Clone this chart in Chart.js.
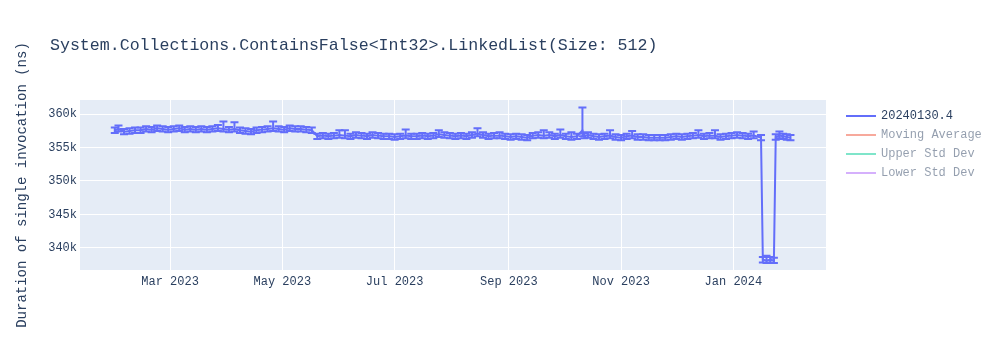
<!DOCTYPE html>
<html>
<head>
<meta charset="utf-8">
<script src="https://cdn.jsdelivr.net/npm/chart.js@4"></script>
<style>
  html, body { margin: 0; padding: 0; background: #fff; }
  #wrap { position: relative; width: 1000px; height: 350px; }
  #title {
    position: absolute; left: 50px; top: 36px;
    font: 16.6px "Liberation Mono", "Courier New", monospace;
    color: #2a3f5f; white-space: pre;
  }
  #legend {
    position: absolute; left: 846px; top: 106px;
    font: 12px "Liberation Mono", "Courier New", monospace;
    color: #2a3f5f;
  }
  .item { height: 19px; display: flex; align-items: center; white-space: pre; }
  .item.off { opacity: 0.5; }
  .swatch { width: 30px; height: 2px; margin-right: 5px; }
</style>
</head>
<body>
<div id="wrap">
  <canvas id="chart" width="1000" height="350"></canvas>
  <div id="title">System.Collections.ContainsFalse&lt;Int32&gt;.LinkedList(Size: 512)</div>
  <div id="legend"></div>
</div>
<script>
// Data
const seriesName = "20240130.4";

const dates = [
  "2023-01-30","2023-02-01","2023-02-04","2023-02-07","2023-02-10","2023-02-13","2023-02-16","2023-02-19",
  "2023-02-22","2023-02-25","2023-02-28","2023-03-03","2023-03-06","2023-03-09","2023-03-12","2023-03-15",
  "2023-03-18","2023-03-21","2023-03-24","2023-03-27","2023-03-30","2023-04-02","2023-04-05","2023-04-08",
  "2023-04-11","2023-04-14","2023-04-17","2023-04-20","2023-04-23","2023-04-26","2023-04-29","2023-05-02",
  "2023-05-05","2023-05-08","2023-05-11","2023-05-14","2023-05-17","2023-05-20","2023-05-23","2023-05-26",
  "2023-05-29","2023-06-01","2023-06-04","2023-06-07","2023-06-10","2023-06-13","2023-06-16","2023-06-19",
  "2023-06-22","2023-06-25","2023-06-28","2023-07-01","2023-07-04","2023-07-07","2023-07-10","2023-07-13",
  "2023-07-16","2023-07-19","2023-07-22","2023-07-25","2023-07-28","2023-07-31","2023-08-03","2023-08-06",
  "2023-08-09","2023-08-12","2023-08-15","2023-08-18","2023-08-21","2023-08-24","2023-08-27","2023-08-30",
  "2023-09-02","2023-09-05","2023-09-08","2023-09-11","2023-09-14","2023-09-17","2023-09-20","2023-09-23",
  "2023-09-26","2023-09-29","2023-10-02","2023-10-05","2023-10-08","2023-10-11","2023-10-12","2023-10-14",
  "2023-10-17","2023-10-20","2023-10-23","2023-10-26","2023-10-29","2023-11-01","2023-11-04","2023-11-07",
  "2023-11-10","2023-11-13","2023-11-16","2023-11-19","2023-11-22","2023-11-25","2023-11-28","2023-12-01",
  "2023-12-04","2023-12-07","2023-12-10","2023-12-13","2023-12-16","2023-12-19","2023-12-22","2023-12-25",
  "2023-12-28","2023-12-31","2024-01-03","2024-01-06","2024-01-09","2024-01-12","2024-01-16","2024-01-17",
  "2024-01-19","2024-01-21","2024-01-23","2024-01-24","2024-01-26","2024-01-28","2024-01-30","2024-02-01"
];

// mean duration, ns
const durations = [
  357600,357800,357400,357500,357600,357600,357800,357700,
  357900,357800,357700,357800,357900,357700,357800,357700,
  357800,357700,357800,357900,357800,357700,357800,357600,
  357500,357400,357600,357700,357800,357900,357800,357700,
  357900,357800,357800,357700,357600,356700,356800,356700,
  356800,356900,356800,356700,356900,356800,356700,356900,
  356800,356700,356700,356600,356700,356800,356700,356700,
  356800,356700,356800,357000,356900,356800,356700,356800,
  356700,356900,357100,356900,356700,356800,356800,356700,
  356600,356700,356600,356500,356800,356900,356800,356900,
  356700,356900,356700,356600,356700,357600,356800,356900,
  356700,356600,356700,356800,356600,356500,356700,356800,
  356600,356600,356500,356500,356500,356500,356600,356700,
  356600,356700,356800,356900,356700,356800,356800,356600,
  356700,356800,356900,356800,356700,356800,356500,338200,
  338100,338200,338100,356600,356800,356700,356600,356500
];

// error bar extents above / below the mean, ns
const errPlus = [
  400,500,400,400,400,400,400,400,
  400,400,400,400,400,400,400,400,
  400,400,400,500,1100,400,1000,400,
  400,400,400,400,400,1000,400,400,
  400,400,400,400,400,400,400,400,
  400,700,800,400,400,400,400,400,
  400,400,400,400,400,900,400,400,
  400,400,400,600,400,400,400,400,
  400,400,800,400,400,400,500,400,
  400,400,400,400,400,400,800,400,
  400,800,400,700,400,3400,400,400,
  400,400,400,800,400,400,400,700,
  400,400,400,400,400,400,400,400,
  400,400,400,700,400,400,800,400,
  400,400,400,400,400,600,400,400,
  700,400,400,400,600,400,400,400
];
const errMinus = [
  400,400,400,400,400,400,400,400,
  400,400,400,400,400,400,400,400,
  400,400,400,400,400,400,400,400,
  400,400,400,400,400,400,400,400,
  400,400,400,400,400,400,400,400,
  400,400,400,400,400,400,400,400,
  400,400,400,400,400,400,400,400,
  400,400,400,400,400,400,400,400,
  400,400,400,400,400,400,400,400,
  400,400,400,400,400,400,400,400,
  400,400,400,400,400,900,400,400,
  400,400,400,400,400,400,400,400,
  400,400,400,400,400,400,400,400,
  400,400,400,400,400,400,400,400,
  400,400,400,400,400,400,400,400,
  400,400,400,400,400,400,400,400
];

const xTickDates = ["2023-03-01","2023-05-01","2023-07-01","2023-09-01","2023-11-01","2024-01-01"];
const xTickLabels = ["Mar 2023","May 2023","Jul 2023","Sep 2023","Nov 2023","Jan 2024"];
const yTicks = [340000, 345000, 350000, 355000, 360000];

const legendNames = [seriesName, "Moving Average", "Upper Std Dev", "Lower Std Dev"];
const legendColors = ["#636efa", "#EF553B", "#00cc96", "#ab63fa"];
const legendHidden = [false, true, true, true];

const toMs = s => Date.parse(s + "T00:00:00Z");
const day = 86400000;

Chart.defaults.font.family = '"Liberation Mono", "Courier New", monospace';
Chart.defaults.font.size = 12;
Chart.defaults.color = "#2a3f5f";

// plot background
const plotBg = {
  id: "plotBg",
  beforeDraw(chart) {
    const a = chart.chartArea, ctx = chart.ctx;
    ctx.save();
    ctx.fillStyle = "#e5ecf6";
    ctx.fillRect(a.left, a.top, a.right - a.left, a.bottom - a.top);
    ctx.restore();
  }
};

// error bars drawn through the scales
const errorBars = {
  id: "errorBars",
  afterDatasetsDraw(chart) {
    const ctx = chart.ctx, x = chart.scales.x, y = chart.scales.y, a = chart.chartArea;
    ctx.save();
    ctx.beginPath();
    ctx.rect(a.left, a.top, a.right - a.left, a.bottom - a.top);
    ctx.clip();
    ctx.strokeStyle = "#636efa";
    ctx.lineWidth = 2;
    dates.forEach((d, i) => {
      const px = x.getPixelForValue(toMs(d));
      const top = y.getPixelForValue(durations[i] + errPlus[i]);
      const bot = y.getPixelForValue(durations[i] - errMinus[i]);
      ctx.beginPath();
      ctx.moveTo(px, top); ctx.lineTo(px, bot);
      ctx.moveTo(px - 4, top); ctx.lineTo(px + 4, top);
      ctx.moveTo(px - 4, bot); ctx.lineTo(px + 4, bot);
      ctx.stroke();
    });
    ctx.restore();
  }
};

new Chart(document.getElementById("chart"), {
  type: "line",
  data: {
    datasets: [{
      label: seriesName,
      data: dates.map((d, i) => ({ x: toMs(d), y: durations[i] })),
      borderColor: "#636efa",
      borderWidth: 2,
      pointRadius: 0,
      tension: 0
    }]
  },
  options: {
    responsive: false,
    animation: false,
    layout: { padding: { top: 100, right: 174, left: 0, bottom: 0 } },
    plugins: { legend: { display: false }, tooltip: { enabled: false } },
    scales: {
      x: {
        type: "linear",
        min: toMs("2023-01-11") + 0.1 * day,
        max: toMs("2024-02-20") + 0.3 * day,
        afterBuildTicks(s) { s.ticks = xTickDates.map(d => ({ value: toMs(d) })); },
        afterFit(s) { s.height = 80; },
        ticks: {
          autoSkip: false, maxRotation: 0, padding: 5,
          callback: (v, i) => xTickLabels[i]
        },
        grid: { color: "#ffffff", lineWidth: 1, drawTicks: false },
        border: { display: false }
      },
      y: {
        min: 336660,
        max: 362140,
        afterBuildTicks(s) { s.ticks = yTicks.map(v => ({ value: v })); },
        afterFit(s) { s.width = 80; },
        ticks: { padding: 3, callback: v => (v / 1000) + "k" },
        grid: { color: "#ffffff", lineWidth: 1, drawTicks: false },
        border: { display: false },
        title: {
          display: true,
          text: "Duration of single invocation (ns)",
          font: { size: 14 },
          padding: { top: 14, bottom: 0 }
        }
      }
    }
  },
  plugins: [plotBg, errorBars]
});

// Legend
const legend = document.getElementById("legend");
legendNames.forEach((name, i) => {
  const row = document.createElement("div");
  row.className = "item" + (legendHidden[i] ? " off" : "");
  row.innerHTML = `<span class="swatch" style="background:${legendColors[i]}"></span>${name}`;
  legend.appendChild(row);
});
</script>
</body>
</html>
